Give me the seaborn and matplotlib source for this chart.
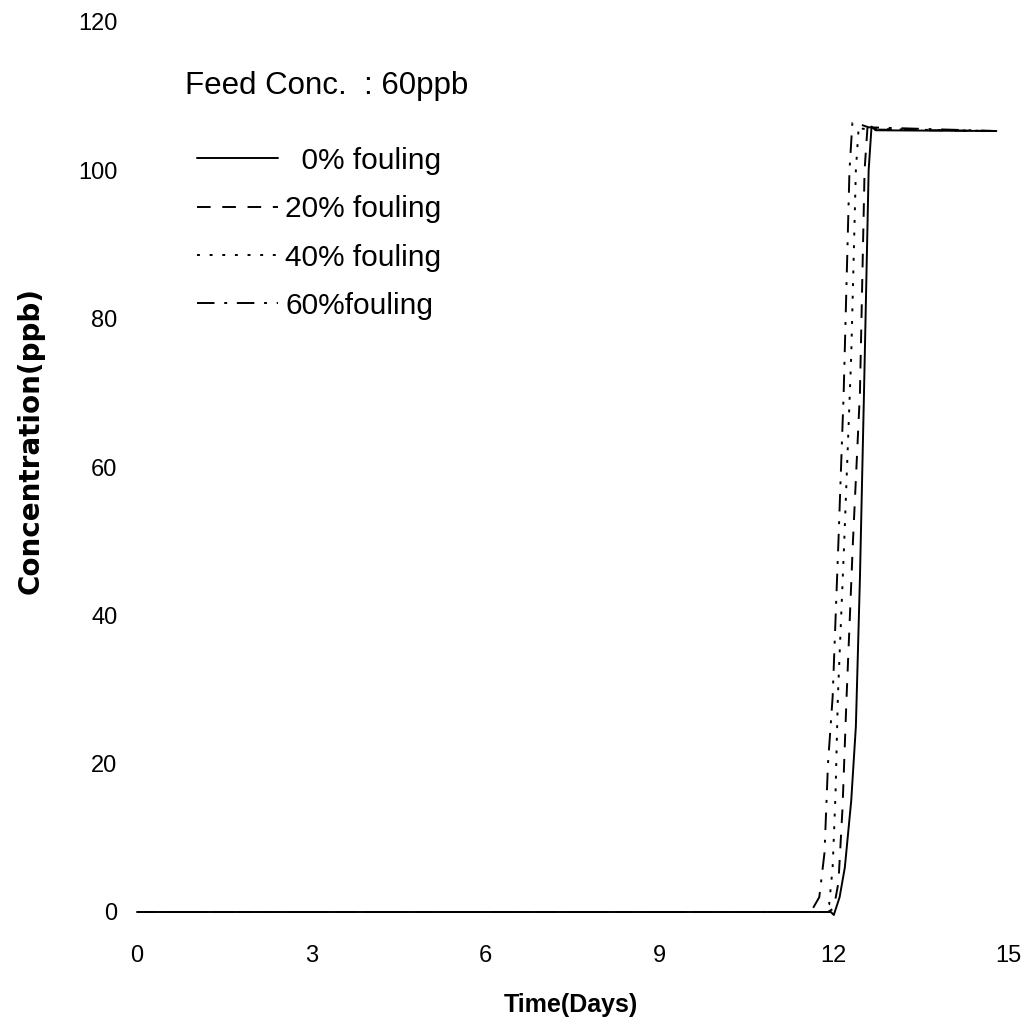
import pandas as pd
import seaborn as sns
import matplotlib
matplotlib.use('Agg')
import matplotlib.pyplot as plt
from matplotlib.lines import Line2D

# -------------------------------------------------
# data (time in days, concentration in ppb)
# -------------------------------------------------
labels = ["0% fouling", "20% fouling", "40% fouling", "60%fouling"]

t_0 = [0, 11.95, 12.0, 12.1, 12.19, 12.3, 12.38, 12.45, 12.52, 12.6, 12.65, 12.72, 14.8]
c_0 = [0, 0, -0.4, 2, 6, 15, 25, 45, 70, 100, 105.9, 105.4, 105.3]

t_20 = [0, 11.9, 12.0, 12.08, 12.15, 12.22, 12.33, 12.45, 12.53, 12.58, 12.65, 14.8]
c_20 = [0, 0, 0.5, 4, 14, 29, 50, 70, 100, 105.8, 105.5, 105.3]

t_40 = [0, 11.8, 11.92, 11.98, 12.03, 12.07, 12.18, 12.3, 12.38, 12.43, 12.5, 14.8]
c_40 = [0, 0, 1, 6, 16, 29, 50, 75, 100, 106, 105.6, 105.3]

t_60 = [0, 11.55, 11.64, 11.75, 11.84, 11.9, 11.98, 12.08, 12.17, 12.27, 12.32, 12.45, 12.6, 14.8]
c_60 = [0, 0, 0.5, 2, 8, 20, 29, 50, 70, 100, 106.4, 106.2, 105.8, 105.3]

x_ticks = [0, 3, 6, 9, 12, 15]
y_ticks = [0, 20, 40, 60, 80, 100, 120]

frames = []
for lab, t, c in zip(labels, [t_0, t_20, t_40, t_60], [c_0, c_20, c_40, c_60]):
    frames.append(pd.DataFrame({"Time": t, "Conc": c, "case": lab}))
df = pd.concat(frames, ignore_index=True)

# line styles (dash patterns in linewidth units)
dash_map = {
    labels[0]: "",
    labels[1]: (7, 6),
    labels[2]: (1.5, 5),
    labels[3]: (9, 5, 1.5, 5),
}

# -------------------------------------------------
# plot
# -------------------------------------------------
sns.set_style("white")
plt.rcParams["font.family"] = ["Liberation Sans", "DejaVu Sans"]
plt.rcParams["text.color"] = "black"
plt.rcParams["axes.labelcolor"] = "black"
plt.rcParams["xtick.color"] = "black"
plt.rcParams["ytick.color"] = "black"

fig = plt.figure(figsize=(10.28, 10.26), dpi=100)
ax = fig.add_axes([137 / 1028, 1 - 912 / 1026, 871 / 1028, 890 / 1026])

sns.lineplot(data=df, x="Time", y="Conc", style="case", dashes=dash_map,
             color="black", linewidth=1.4, sort=False, estimator=None,
             legend=False, ax=ax)
for ln in ax.get_lines():
    ln.set_clip_on(False)

ax.set_xlim(0, 15)
ax.set_ylim(0, 120)
ax.set_xticks(x_ticks)
ax.set_yticks(y_ticks)
ax.tick_params(axis="x", length=0, pad=24, labelsize=17)
ax.tick_params(axis="y", length=0, pad=14, labelsize=17)
sns.despine(ax=ax, left=True, bottom=True, top=True, right=True)

ax.set_xlabel("")
ax.set_ylabel("Concentration(ppb)", fontsize=20, fontweight="bold",
              family=["DejaVu Sans"])
ax.yaxis.set_label_coords(-0.106, 0.53)
fig.text(571 / 1028, 1 - 1005 / 1026, "Time(Days)", fontsize=18,
         fontweight="bold", ha="center", va="center")

# legend: title as its own text, entries below
fig.text(185 / 1028, 1 - 86 / 1026, "Feed Conc.  : 60ppb", fontsize=22.5,
         ha="left", va="center")
handles = [Line2D([], [], color="black", linewidth=1.4,
                  linestyle=("-" if dash_map[l] == "" else (0, dash_map[l])))
           for l in labels]
shown = ["  " + labels[0]] + labels[1:]
leg = ax.legend(handles, shown, loc="upper left",
                bbox_to_anchor=(182 / 1028, 1 - 132 / 1026),
                bbox_transform=fig.transFigure, frameon=False,
                fontsize=21.5, borderpad=0,
                handlelength=2.7, handletextpad=0.25, labelspacing=0.68)

fig.savefig("out.png", dpi=100)
